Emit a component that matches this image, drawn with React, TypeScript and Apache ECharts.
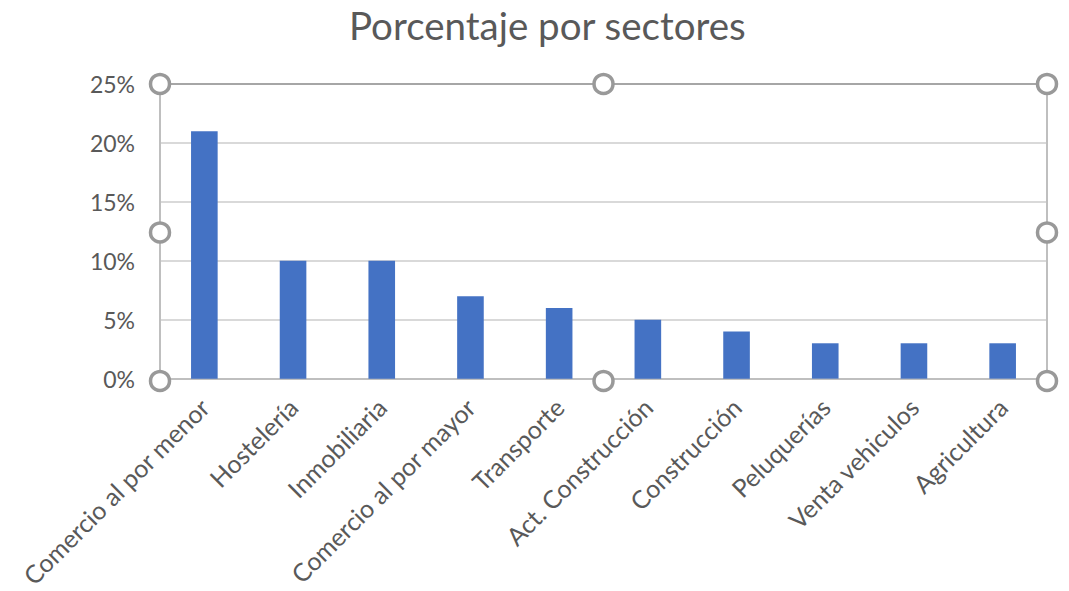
import React, { useEffect, useRef } from "react";
import * as echarts from "echarts";

const categories = [
  "Comercio al por menor",
  "Hostelería",
  "Inmobiliaria",
  "Comercio al por mayor",
  "Transporte",
  "Act. Construcción",
  "Construcción",
  "Peluquerías",
  "Venta vehiculos",
  "Agricultura",
];
const values = [21, 10, 10, 7, 6, 5, 4, 3, 3, 3];
const yMin = 0;
const yMax = 25;
const yStep = 5;

const W = 1069;
const H = 591;
const GL = 160;
const GR = 1047;
const GT = 84;
const GB = 381;
const FONT = "Lato, 'Open Sans', sans-serif";
const TEXT = "#595959";

export default function App() {
  const ref = useRef<HTMLDivElement>(null);
  useEffect(() => {
    if (!ref.current) return;
    const chart = echarts.init(ref.current, undefined, { renderer: "svg" });
    const midX = (GL + GR) / 2;
    const midY = (GT + GB) / 2;
    const handles = [
      [GL, GT], [midX, GT], [GR, GT],
      [GL, midY], [GR, midY],
      [GL, GB], [midX, GB], [GR, GB],
    ];
    chart.setOption({
      animation: false,
      backgroundColor: "#ffffff",
      title: {
        text: "Porcentaje por sectores",
        left: 344,
        top: 0,
        textStyle: { fontFamily: FONT, fontSize: 38.5, fontWeight: "normal", color: TEXT },
      },
      grid: { left: GL, right: W - GR, top: GT, bottom: H - GB, containLabel: false },
      xAxis: {
        type: "category",
        data: categories,
        axisLine: { lineStyle: { color: "#bfbfbf", width: 2 } },
        axisTick: { show: false },
        axisLabel: {
          interval: 0,
          rotate: 45,
          margin: 24,
          fontFamily: FONT,
          fontSize: 25,
          color: TEXT,
        },
      },
      yAxis: {
        type: "value",
        min: yMin,
        max: yMax,
        interval: yStep,
        axisLine: { show: false },
        axisTick: { show: false },
        splitLine: { lineStyle: { color: "#d9d9d9", width: 2 } },
        axisLabel: {
          formatter: "{value}%",
          margin: 25,
          fontFamily: FONT,
          fontSize: 23,
          color: TEXT,
        },
      },
      series: [
        {
          type: "bar",
          data: values,
          barWidth: "30%",
          itemStyle: { color: "#4472C4" },
        },
      ],
      graphic: [
        { type: "line", z: 100, shape: { x1: GL, y1: GT, x2: GR, y2: GT }, style: { stroke: "#a6a6a6", lineWidth: 2 } },
        { type: "line", z: 100, shape: { x1: GL, y1: GT, x2: GL, y2: GB }, style: { stroke: "#bfbfbf", lineWidth: 2 } },
        { type: "line", z: 100, shape: { x1: GR, y1: GT, x2: GR, y2: GB }, style: { stroke: "#bfbfbf", lineWidth: 2 } },
        ...handles.map(([x, y]) => ({
          type: "circle",
          z: 101,
          shape: { cx: x, cy: y, r: 9.5 },
          style: { fill: "#ffffff", stroke: "#999999", lineWidth: 3.5 },
        })),
      ],
    });
    return () => chart.dispose();
  }, []);
  return (
    <div
      ref={ref}
      style={{ position: "fixed", left: 0, top: 0, width: W, height: H, background: "#fff" }}
    />
  );
}
